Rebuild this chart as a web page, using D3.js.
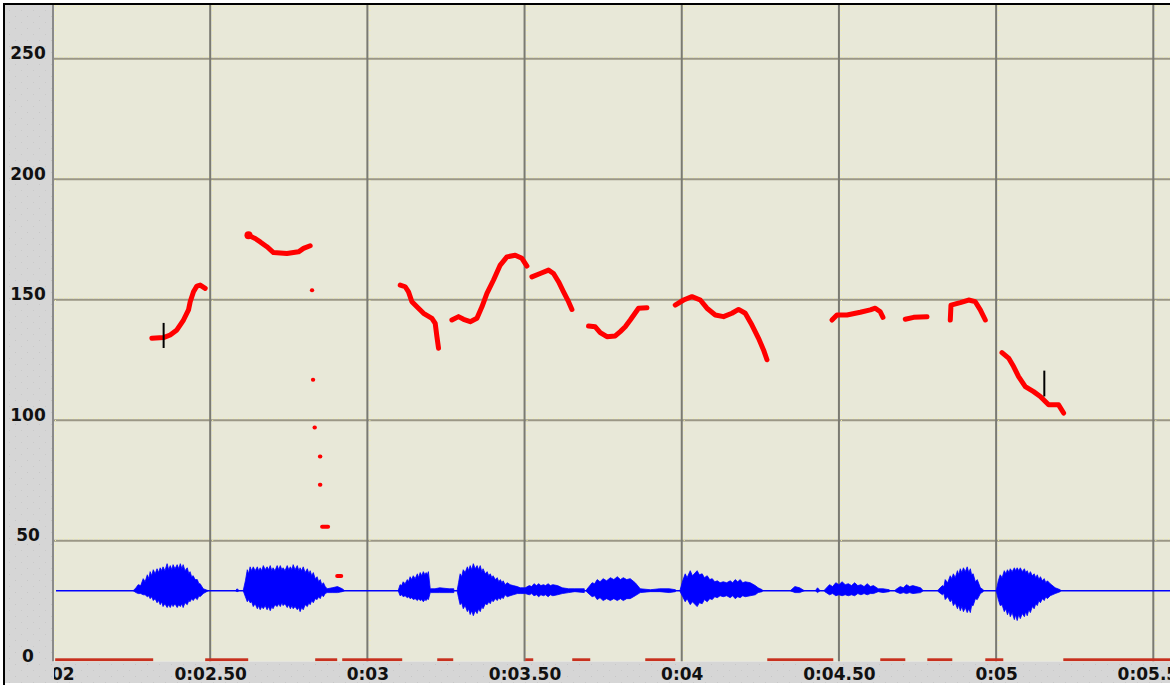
<!DOCTYPE html>
<html>
<head>
<meta charset="utf-8">
<script src="https://cdn.jsdelivr.net/npm/d3@7"></script>
<style>
  html, body { margin: 0; padding: 0; background: #ffffff; }
  svg { display: block; }
  text { font-family: "DejaVu Sans", sans-serif; font-weight: bold; font-size: 17px; fill: #111111; }
</style>
</head>
<body>
<svg id="chart" width="1170" height="687"></svg>
<script>
// ---- Data -----------------------------------------------------------------
// Time axis (seconds) and pitch axis ticks
const timeTicks  = [2.0, 2.5, 3.0, 3.5, 4.0, 4.5, 5.0, 5.5];
const timeLabels = ["0:02", "0:02.50", "0:03", "0:03.50", "0:04", "0:04.50", "0:05", "0:05.50"];
const valueTicks = [0, 50, 100, 150, 200, 250];
const valueLabels = ["0", "50", "100", "150", "200", "250"];

// Pitch contour, one array per voiced stretch: [time s, pitch]
const pitchSegments = [
  [[2.3145,134.0],[2.3514,134.3],[2.3727,135.4],[2.3941,137.5],[2.4151,141.6],[2.4310,145.8],[2.4364,149.2],[2.4469,153.3],[2.4577,155.7],[2.4682,156.1],[2.4841,154.7]],
  [[2.6218,176.8],[2.6432,175.4],[2.6591,174.0],[2.6804,172.0],[2.7014,169.6],[2.7440,169.2],[2.7809,169.9],[2.7968,171.3],[2.8181,172.4]],
  [[3.1045,156.1],[3.1204,155.4],[3.1309,153.3],[3.1417,149.2],[3.1576,147.1],[3.1786,144.4],[3.2053,142.3],[3.2158,140.2],[3.2212,134.7],[3.2263,129.9]],
  [[3.2689,141.6],[3.2899,143.0],[3.3059,141.9],[3.3272,140.9],[3.3485,142.3],[3.3644,147.1],[3.3803,152.7],[3.4013,158.2],[3.4226,164.4],[3.4439,167.8],[3.4703,168.5],[3.4916,167.2],[3.5075,164.0]],
  [[3.5234,159.5],[3.5498,160.9],[3.5762,162.3],[3.5921,160.9],[3.6081,157.5],[3.6240,153.3],[3.6399,149.2],[3.6507,146.0]],
  [[3.7035,139.1],[3.7248,138.8],[3.7407,136.4],[3.7620,134.7],[3.7884,135.0],[3.8044,136.8],[3.8203,138.8],[3.8362,141.6],[3.8626,146.5],[3.8893,146.7]],
  [[3.9793,147.8],[4.0058,149.9],[4.0325,151.3],[4.0589,149.9],[4.0802,146.5],[4.1066,143.7],[4.1330,143.0],[4.1597,144.4],[4.1807,146.0],[4.2020,144.4],[4.2233,139.5],[4.2443,134.0],[4.2602,129.2],[4.2711,125.1]],
  [[4.4778,141.6],[4.4937,143.7],[4.5256,143.7],[4.5679,144.8],[4.5997,145.8],[4.6156,146.5],[4.6315,145.0],[4.6401,142.7]],
  [[4.7111,141.9],[4.7375,142.7],[4.7802,143.0]],
  [[4.8542,141.6],[4.8564,147.8],[4.8860,148.8],[4.9124,149.9],[4.9337,149.2],[4.9497,145.8],[4.9656,141.6]],
  [[5.0187,128.1],[5.0397,125.8],[5.0556,122.3],[5.0715,118.1],[5.0928,114.0],[5.1192,111.9],[5.1405,109.9],[5.1670,106.4],[5.1987,106.4],[5.2147,103.0]]
];

// Isolated pitch frames: [start s, end s, pitch]
const pitchFrames = [
  [2.8235, 2.8245, 154.0],
  [2.8267, 2.8277, 116.8],
  [2.8318, 2.8330, 97.0],
  [2.8490, 2.8505, 85.0],
  [2.8490, 2.8505, 73.3],
  [2.8560, 2.8750, 55.8],
  [2.9040, 2.9170, 35.4]
];

// Selection cursors: [time s, low, high]
const cursorMarks = [
  [2.3519, 130.0, 140.4],
  [5.1533, 109.9, 120.6]
];

// Unvoiced stretches marked along the bottom edge: [start s, end s]
const unvoicedRuns = [
  [2.0069, 2.3187], [2.4841, 2.6209], [2.8340, 2.9040], [2.9200, 3.1108],
  [3.2222, 3.2731], [3.5021, 3.5276], [3.6517, 3.7089], [3.8839, 3.9793],
  [4.2720, 4.4820], [4.6315, 4.7111], [4.7811, 4.8606], [4.9656, 5.0228],
  [5.2137, 5.5531]
];

// Waveform: centre line and envelope of each burst [time s, above, below]
const waveBase = 29.3;
const waveBursts = [
  [[2.580,0,0],[2.586,0.8,0.4],[2.592,0,0]],
  [[2.255,0,0],[2.264,1.2,0.8],[2.271,2.5,1.2],[2.279,2.1,1.2],[2.287,5.0,1.7],[2.293,3.7,1.7],[2.300,6.6,2.5],[2.305,5.0,2.1],[2.309,7.9,3.3],[2.314,6.2,2.5],[2.319,8.7,4.1],[2.325,7.0,3.3],[2.331,9.1,5.0],[2.336,7.5,4.1],[2.341,9.5,5.8],[2.346,8.3,4.6],[2.350,9.9,6.6],[2.356,8.3,5.4],[2.363,11.2,7.0],[2.368,8.7,5.8],[2.373,10.4,7.0],[2.378,8.7,5.4],[2.382,10.8,6.6],[2.388,9.1,5.4],[2.395,10.8,7.0],[2.400,9.1,5.8],[2.405,11.2,6.6],[2.410,9.1,5.4],[2.414,10.8,7.0],[2.420,8.3,5.0],[2.427,9.5,5.8],[2.432,7.0,4.1],[2.436,7.9,4.6],[2.441,5.8,3.3],[2.446,6.2,4.1],[2.452,4.6,2.9],[2.459,4.6,3.7],[2.464,2.9,2.1],[2.468,2.9,2.5],[2.478,0.8,1.2],[2.494,0,0]],
  [[2.605,0,0],[2.612,4.1,2.5],[2.618,8.7,4.6],[2.622,7.0,3.7],[2.627,9.9,5.0],[2.632,8.3,4.6],[2.637,9.9,6.6],[2.643,8.3,5.4],[2.650,9.9,7.5],[2.654,8.3,6.2],[2.659,9.5,7.9],[2.664,8.3,6.6],[2.669,10.4,7.5],[2.675,8.7,6.2],[2.681,9.9,7.9],[2.686,8.7,6.6],[2.691,10.4,8.3],[2.696,8.3,6.6],[2.700,9.5,7.5],[2.706,8.3,5.8],[2.713,10.4,6.6],[2.718,8.7,5.4],[2.723,10.4,6.6],[2.728,8.7,5.0],[2.732,9.5,6.2],[2.738,8.3,5.4],[2.745,10.4,7.0],[2.750,8.7,5.8],[2.755,9.9,7.5],[2.760,8.7,6.2],[2.764,10.8,7.5],[2.770,8.7,6.6],[2.777,10.4,7.9],[2.782,8.3,7.0],[2.786,9.5,8.7],[2.791,8.3,7.0],[2.796,9.9,7.9],[2.802,7.5,5.8],[2.809,9.1,6.6],[2.814,7.0,5.0],[2.818,8.3,5.8],[2.823,6.2,4.1],[2.828,7.5,5.0],[2.834,5.0,3.3],[2.840,5.8,3.7],[2.845,3.7,2.5],[2.850,4.6,3.3],[2.855,2.5,1.7],[2.860,3.3,2.5],[2.866,1.7,1.2],[2.872,0.8,0.8],[2.888,1.2,0.8],[2.905,1.7,0.8],[2.920,0.8,0.4],[2.928,0,0]],
  [[3.098,0,0],[3.104,2.5,2.1],[3.109,2.1,1.7],[3.114,3.7,2.5],[3.120,2.9,2.1],[3.127,4.6,2.9],[3.131,3.7,2.5],[3.136,5.8,3.3],[3.141,4.6,2.9],[3.146,6.2,3.7],[3.152,5.0,3.3],[3.159,7.0,4.1],[3.163,5.4,3.3],[3.168,7.5,4.1],[3.173,6.2,3.7],[3.178,7.9,4.6],[3.183,6.6,3.7],[3.187,7.5,4.1],[3.191,6.6,3.3],[3.194,7.9,3.7],[3.200,0.8,0.8],[3.215,0.8,0.8],[3.230,1.2,0.8],[3.260,0.8,0.8],[3.275,0.8,0.8]],
  [[3.286,0.4,0.4],[3.290,3.3,2.9],[3.295,7.0,5.8],[3.300,5.8,5.0],[3.305,8.7,7.5],[3.311,7.5,6.2],[3.318,9.9,8.7],[3.322,8.3,7.5],[3.327,10.4,9.9],[3.332,8.7,8.3],[3.337,11.2,10.4],[3.343,9.1,8.3],[3.349,10.4,9.5],[3.354,8.7,7.5],[3.359,10.4,8.7],[3.364,7.9,6.6],[3.368,9.1,7.5],[3.375,7.0,5.4],[3.381,7.9,5.8],[3.386,6.2,4.6],[3.391,7.0,5.4],[3.396,5.4,3.7],[3.400,6.2,4.6],[3.407,4.6,3.3],[3.413,5.4,4.1],[3.418,3.7,2.9],[3.423,4.6,3.7],[3.428,3.3,2.5],[3.432,4.1,3.3],[3.438,2.5,1.7],[3.445,3.3,2.5],[3.454,2.5,2.1],[3.464,2.1,1.7],[3.477,1.7,1.2],[3.486,1.2,1.2],[3.502,1.2,1.2],[3.515,2.1,1.7],[3.523,1.7,1.2],[3.530,2.9,2.1],[3.538,2.1,1.7],[3.545,2.9,2.5],[3.552,2.1,1.7],[3.560,2.5,2.1],[3.567,2.1,1.7],[3.575,2.9,2.5],[3.582,2.1,1.7],[3.590,2.5,2.1],[3.605,2.1,1.7],[3.620,1.2,1.2],[3.640,0.8,0.8],[3.660,0.8,0.4],[3.690,0.8,0.8]],
  [[3.697,0.4,0.4],[3.715,3.3,2.5],[3.723,2.9,2.1],[3.731,4.6,3.7],[3.740,3.7,2.9],[3.750,5.0,4.1],[3.761,4.1,3.3],[3.773,5.4,4.1],[3.784,4.6,3.3],[3.795,5.8,4.1],[3.805,4.6,3.3],[3.814,5.4,4.1],[3.825,4.6,3.3],[3.836,5.0,3.3],[3.852,3.3,2.1],[3.868,0.8,0.8],[3.900,0.4,0.4],[3.930,0.8,0.4],[3.960,0.8,0.8],[3.980,0.4,0.4]],
  [[3.995,0.4,0.4],[4.003,4.1,2.5],[4.011,7.0,4.6],[4.017,5.4,3.3],[4.027,8.3,5.8],[4.034,6.2,4.6],[4.049,8.3,6.6],[4.056,6.6,5.0],[4.065,7.0,5.4],[4.072,5.4,3.7],[4.081,6.2,4.6],[4.089,4.6,3.3],[4.097,5.0,3.7],[4.105,3.7,2.5],[4.113,4.1,2.9],[4.122,3.3,2.1],[4.132,3.7,2.5],[4.143,3.3,2.1],[4.154,4.1,2.9],[4.162,3.3,2.1],[4.170,4.6,3.3],[4.178,3.7,2.5],[4.186,4.6,2.9],[4.194,3.3,2.1],[4.202,3.7,2.5],[4.218,3.3,2.1],[4.234,2.1,1.7],[4.243,1.2,0.8],[4.256,0.4,0.4]],
  [[4.345,0,0],[4.360,1.7,0.8],[4.375,1.2,0.8],[4.390,0,0]],
  [[4.425,0,0],[4.432,1.2,0.8],[4.440,0,0]],
  [[4.455,0.4,0.4],[4.470,2.5,1.7],[4.480,1.7,1.2],[4.490,3.3,2.1],[4.500,2.5,1.7],[4.510,3.7,2.1],[4.520,2.5,1.7],[4.530,2.9,2.1],[4.540,2.1,1.7],[4.550,3.3,2.1],[4.560,2.1,1.2],[4.570,2.5,1.7],[4.580,1.7,1.2],[4.590,2.9,1.7],[4.600,1.7,1.2],[4.610,2.1,1.2],[4.625,0.8,0.4],[4.640,0.8,0.8],[4.660,0.4,0.4]],
  [[4.680,0.4,0.4],[4.695,1.7,1.2],[4.705,1.2,0.8],[4.715,2.5,1.2],[4.725,1.7,0.8],[4.735,2.1,1.2],[4.760,1.2,0.8],[4.768,0,0]],
  [[4.816,0.4,0.4],[4.829,2.1,1.7],[4.834,1.7,1.2],[4.838,4.6,3.7],[4.846,3.3,2.5],[4.854,6.2,4.6],[4.859,5.0,3.7],[4.864,7.0,6.2],[4.870,5.4,5.0],[4.877,8.3,7.5],[4.881,6.6,5.8],[4.886,9.1,8.3],[4.891,7.5,6.6],[4.896,9.5,8.7],[4.902,7.9,7.0],[4.908,9.9,9.1],[4.913,7.5,7.5],[4.918,9.1,9.1],[4.922,6.6,6.2],[4.927,7.0,6.2],[4.934,3.7,3.3],[4.940,4.6,3.7],[4.950,1.2,1.2],[4.959,0.4,0.4]],
  [[5.001,0.4,0.4],[5.007,4.1,3.7],[5.013,6.6,6.2],[5.019,5.4,5.8],[5.026,8.3,8.7],[5.031,7.0,7.5],[5.036,8.7,10.0],[5.041,7.5,8.3],[5.045,9.1,10.8],[5.051,7.9,9.1],[5.058,9.5,12.0],[5.062,8.3,10.0],[5.067,9.5,12.4],[5.072,8.3,9.9],[5.077,9.5,11.6],[5.083,7.9,9.5],[5.090,9.1,10.8],[5.094,7.5,8.7],[5.099,8.3,10.4],[5.104,6.6,7.9],[5.109,7.9,9.1],[5.115,6.2,6.6],[5.121,7.0,7.5],[5.126,5.4,5.4],[5.131,6.6,6.2],[5.136,4.6,4.1],[5.141,5.8,5.0],[5.147,4.1,3.3],[5.153,5.0,4.1],[5.158,3.3,2.5],[5.163,4.1,3.3],[5.172,2.9,2.1],[5.188,1.2,1.2],[5.204,0.4,0.4]]
];

// ---- Layout ---------------------------------------------------------------
const W = 1170, H = 687;
const plotLeft = 53, plotRight = 1170, plotTop = 5, plotBottom = 661.3;

const x = d3.scaleLinear().domain([2.0, 5.5531]).range([plotLeft, plotRight]);
const y = d3.scaleLinear().domain([0, 272.3]).range([plotBottom, plotTop]);

const svg = d3.select("#chart");
const defs = svg.append("defs");

// faint dotted texture of the gray panels
const pat = defs.append("pattern").attr("id", "panelDots")
  .attr("width", 12).attr("height", 12).attr("patternUnits", "userSpaceOnUse");
pat.append("rect").attr("width", 12).attr("height", 12).attr("fill", "#d6d6d6");
pat.append("rect").attr("x", 3).attr("y", 4).attr("width", 1).attr("height", 1).attr("fill", "#c6c6c6");
pat.append("rect").attr("x", 9).attr("y", 10).attr("width", 1).attr("height", 1).attr("fill", "#c9c9c9");

defs.append("clipPath").attr("id", "plotClip")
  .append("rect").attr("x", plotLeft).attr("y", plotTop)
  .attr("width", plotRight - plotLeft).attr("height", plotBottom - plotTop);
defs.append("clipPath").attr("id", "labelClip")
  .append("rect").attr("x", plotLeft + 1).attr("y", plotBottom)
  .attr("width", plotRight - plotLeft).attr("height", H - plotBottom);

// panels
svg.append("rect").attr("x", 5).attr("y", 5).attr("width", plotLeft - 5).attr("height", 678)
  .attr("fill", "url(#panelDots)");
svg.append("rect").attr("x", 5).attr("y", plotBottom).attr("width", W - 5).attr("height", 683 - plotBottom)
  .attr("fill", "url(#panelDots)");
svg.append("rect").attr("x", plotLeft).attr("y", plotTop)
  .attr("width", plotRight - plotLeft).attr("height", plotBottom - plotTop)
  .attr("fill", "#e8e8d8");

// frame lines
svg.append("rect").attr("x", 3).attr("y", 3).attr("width", W - 3).attr("height", 2).attr("fill", "#000");
svg.append("rect").attr("x", 3).attr("y", 3).attr("width", 2).attr("height", 682).attr("fill", "#000");

// ---- Grid -----------------------------------------------------------------
const grid = svg.append("g").attr("clip-path", "url(#plotClip)");
const hTicks = valueTicks.filter(v => v > 0);

grid.selectAll(".hl").data(hTicks).join("line")
  .attr("x1", plotLeft).attr("x2", plotRight)
  .attr("y1", d => y(d)).attr("y2", d => y(d))
  .attr("stroke", "#9b9786").attr("stroke-width", 2);
grid.selectAll(".hy").data(hTicks).join("line")
  .attr("x1", plotLeft).attr("x2", plotRight)
  .attr("y1", d => y(d) - 2).attr("y2", d => y(d) - 2)
  .attr("stroke", "#f6f2a8").attr("stroke-width", 1).attr("stroke-dasharray", "1 4");

svg.selectAll(".vl").data(timeTicks).join("line")
  .attr("x1", d => x(d)).attr("x2", d => x(d))
  .attr("y1", plotTop).attr("y2", plotBottom)
  .attr("stroke", d => d === timeTicks[0] ? "#8a8a8a" : "#7a7a72").attr("stroke-width", 2);
grid.selectAll(".vy").data(timeTicks).join("line")
  .attr("x1", d => x(d) + 2.5).attr("x2", d => x(d) + 2.5)
  .attr("y1", plotTop).attr("y2", plotBottom)
  .attr("stroke", "#f6f2a8").attr("stroke-width", 1).attr("stroke-dasharray", "1 4");
grid.append("line").attr("x1", plotLeft).attr("x2", plotRight)
  .attr("y1", plotTop + 1.5).attr("y2", plotTop + 1.5)
  .attr("stroke", "#f6f2a8").attr("stroke-width", 1).attr("stroke-dasharray", "1 4");

// ---- Waveform -------------------------------------------------------------
const plot = svg.append("g").attr("clip-path", "url(#plotClip)");

plot.append("line")
  .attr("x1", x(timeTicks[0]) + 3).attr("x2", plotRight)
  .attr("y1", y(waveBase)).attr("y2", y(waveBase))
  .attr("stroke", "#0000ff").attr("stroke-width", 1.6);

const waveArea = d3.area()
  .x(d => x(d[0]))
  .y0(d => y(waveBase - d[2]))
  .y1(d => y(waveBase + d[1]));

plot.selectAll(".burst").data(waveBursts).join("path")
  .attr("d", waveArea)
  .attr("fill", "#0000ff")
  .attr("stroke", "#0000ff").attr("stroke-width", 0.8);

// ---- Unvoiced marks along the bottom edge ----------------------------------
plot.selectAll(".uv").data(unvoicedRuns).join("rect")
  .attr("x", d => x(d[0])).attr("width", d => x(d[1]) - x(d[0]))
  .attr("y", y(0) - 3).attr("height", 3)
  .attr("fill", "#c8301e");

// ---- Pitch ----------------------------------------------------------------
const pitchLine = d3.line().x(d => x(d[0])).y(d => y(d[1]));

plot.selectAll(".pitch").data(pitchSegments).join("path")
  .attr("d", pitchLine)
  .attr("fill", "none").attr("stroke", "#ff0000")
  .attr("stroke-width", 5).attr("stroke-linecap", "round").attr("stroke-linejoin", "round");

plot.selectAll(".frame").data(pitchFrames).join("line")
  .attr("x1", d => x(d[0])).attr("x2", d => x(d[1]))
  .attr("y1", d => y(d[2])).attr("y2", d => y(d[2]))
  .attr("stroke", "#ff0000").attr("stroke-width", 4).attr("stroke-linecap", "round");

// onset of the second stretch is drawn heavier
plot.append("circle")
  .attr("cx", x(pitchSegments[1][0][0])).attr("cy", y(pitchSegments[1][0][1]))
  .attr("r", 4).attr("fill", "#ff0000");

plot.selectAll(".cursor").data(cursorMarks).join("line")
  .attr("x1", d => x(d[0])).attr("x2", d => x(d[0]))
  .attr("y1", d => y(d[1])).attr("y2", d => y(d[2]))
  .attr("stroke", "#000").attr("stroke-width", 2);

// ---- Axes -----------------------------------------------------------------
const yAxis = svg.append("g").attr("transform", "translate(28,0)")
  .call(d3.axisLeft(y).tickValues(valueTicks).tickFormat((d, i) => valueLabels[i]).tickSize(0));
yAxis.select(".domain").remove();
yAxis.selectAll("text")
  .attr("x", 0).attr("dy", 0).attr("text-anchor", "middle")
  .attr("fill", "#111111").style("font-family", "DejaVu Sans").style("font-size", "17px").style("font-weight", "bold");

const xAxis = svg.append("g").attr("clip-path", "url(#labelClip)")
  .append("g").attr("transform", "translate(0,680)")
  .call(d3.axisBottom(x).tickValues(timeTicks).tickFormat((d, i) => timeLabels[i]).tickSize(0).tickPadding(0));
xAxis.select(".domain").remove();
xAxis.selectAll("text")
  .attr("y", 0).attr("dy", 0)
  .attr("fill", "#111111").style("font-family", "DejaVu Sans").style("font-size", "17px").style("font-weight", "bold");
</script>
</body>
</html>
